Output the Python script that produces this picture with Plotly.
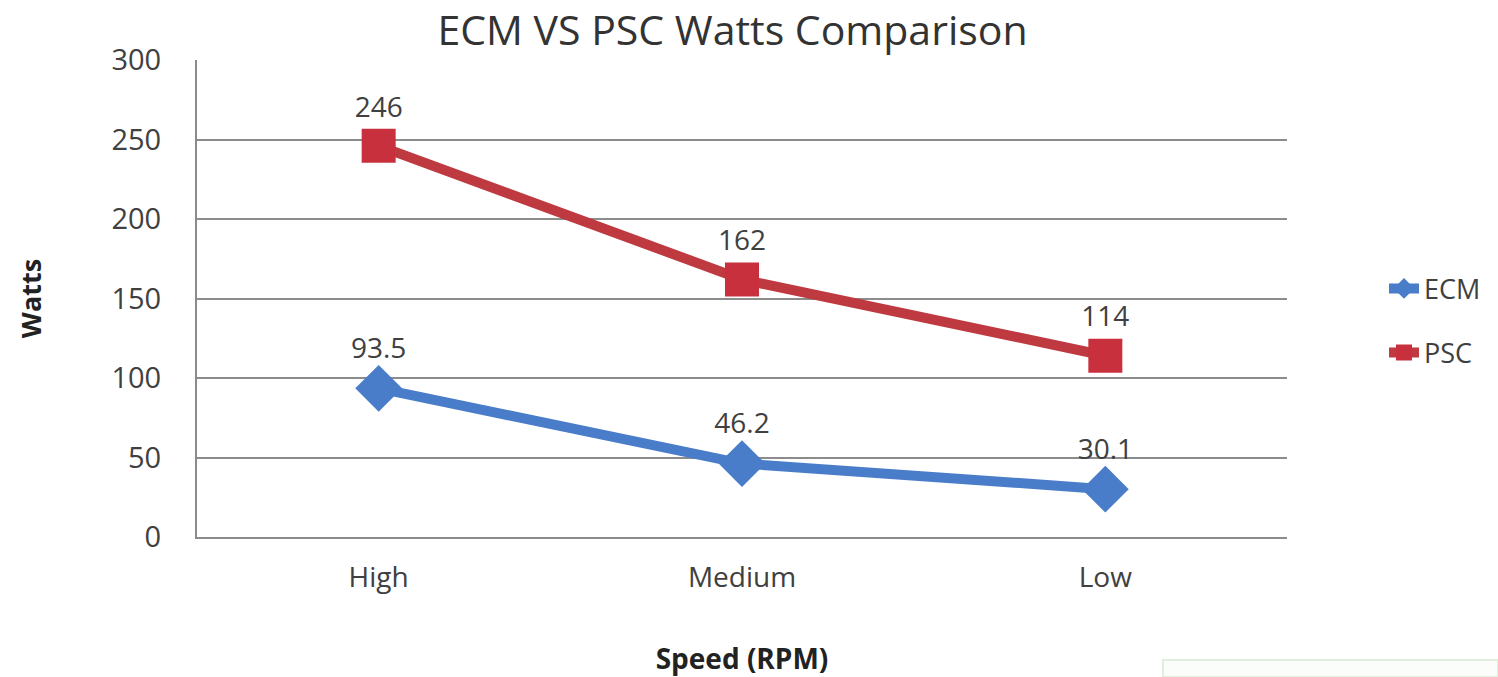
import plotly.graph_objects as go

categories = ["High", "Medium", "Low"]
ecm_watts = [93.5, 46.2, 30.1]
psc_watts = [246, 162, 114]
ecm_labels = ["93.5", "46.2", "30.1"]
psc_labels = ["246", "162", "114"]
y_ticks = [0, 50, 100, 150, 200, 250, 300]

FONT = "Open Sans"
TXT = "#404040"

fig = go.Figure()
fig.add_trace(go.Scatter(
    x=categories, y=ecm_watts, name="ECM", mode="lines+markers+text",
    legendgroup="ecm",
    line=dict(color="#4A7DC9", width=10),
    marker=dict(symbol="diamond", size=36, color="#4A7DC9"),
    text=ecm_labels, textposition="top center",
    textfont=dict(family=FONT, size=28, color=TXT),
))
fig.add_trace(go.Scatter(
    x=categories, y=psc_watts, name="PSC", mode="lines+markers+text",
    legendgroup="psc",
    line=dict(color="#BF3A40", width=10),
    marker=dict(symbol="square", size=34, color="#C8303E"),
    text=psc_labels, textposition="top center",
    textfont=dict(family=FONT, size=28, color=TXT),
))

fig.update_layout(
    width=1498, height=677,
    paper_bgcolor="white", plot_bgcolor="white",
    margin=dict(l=197, r=211, t=60, b=140, autoexpand=False),
    title=dict(text="ECM VS PSC Watts Comparison", x=0.489, xanchor="center",
               y=0.955, yanchor="middle",
               font=dict(family=FONT, size=41, color="#333333")),
    font=dict(family=FONT, color=TXT),
    legend=dict(x=1.089, y=0.453, xanchor="left", yanchor="middle",
                font=dict(family=FONT, size=27, color=TXT),
                traceorder="grouped", tracegroupgap=26,
                bgcolor="rgba(0,0,0,0)"),
    showlegend=True,
    shapes=[dict(type="rect", xref="paper", yref="paper",
                 x0=1.0 - 124 / 1090, x1=1.0 + 211 / 1090,
                 y0=-140 / 477, y1=-123 / 477,
                 line=dict(color="#E2EFDE", width=2), fillcolor="#FAFDF9", layer="below")],
)
fig.update_xaxes(
    type="category", range=[-0.5, 2.5], showgrid=False, automargin=False,
    showline=True, linecolor="#8C8C8C", linewidth=2,
    ticks="", ticklabelstandoff=14, tickfont=dict(family=FONT, size=28, color=TXT),
    title=dict(text="<b>Speed (RPM)</b>", font=dict(family=FONT, size=28, color="#222222"),
               standoff=57),
)
fig.update_yaxes(
    range=[0, 300], tickvals=y_ticks, showgrid=True, gridcolor="#8C8C8C", gridwidth=2,
    automargin=False,
    showline=True, linecolor="#8C8C8C", linewidth=2, zeroline=False,
    ticks="", ticklabelstandoff=28, tickfont=dict(family=FONT, size=29, color=TXT),
    title=dict(text="<b>Watts</b>", font=dict(family=FONT, size=27, color="#222222"),
               standoff=62),
)

fig.write_html("out.html", config={"displayModeBar": False},
               post_script="document.body.style.margin='0';")
